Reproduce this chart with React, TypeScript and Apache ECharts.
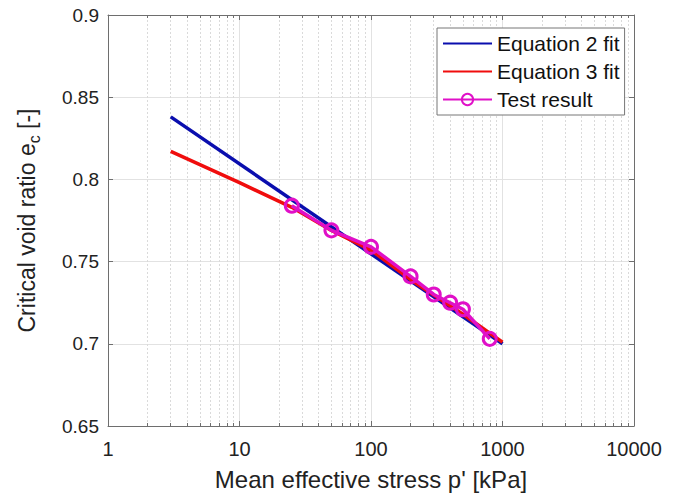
import React, { useEffect, useRef } from "react";
import * as echarts from "echarts";

// ---- data ----
const eq2Fit: [number, number][] = [
  [3, 0.838],
  [1000, 0.7],
];
const eq3Fit: [number, number][] = [
  [3, 0.817],
  [10, 0.798],
  [25, 0.783],
  [50, 0.769],
  [100, 0.757],
  [200, 0.739],
  [500, 0.718],
  [1000, 0.701],
];
const testP = [25, 50, 100, 200, 300, 400, 500, 800];
const testE = [0.784, 0.769, 0.759, 0.741, 0.73, 0.725, 0.721, 0.703];
const xMin = 1;
const xMax = 10000;
const yMin = 0.65;
const yMax = 0.9;
const yStep = 0.05;
const minorX: number[] = [];
for (let d = 1; d < xMax; d *= 10) {
  for (let k = 2; k <= 9; k++) minorX.push(d * k);
}

const FONT = "'Liberation Sans', Arial, Helvetica, sans-serif";
const AXIS_COLOR = "#6e6e6e";
const GRID_COLOR = "#e2e2e2";

export default function App() {
  const ref = useRef<HTMLDivElement>(null);
  useEffect(() => {
    if (!ref.current) return;
    const chart = echarts.init(ref.current, undefined, { renderer: "svg" });
    const tickLen = (3 / 411) * (yMax - yMin);
    const minorGrid = minorX.map((v) => ({ xAxis: v }));
    const minorTicks: any[] = [];
    minorX.forEach((v) => {
      minorTicks.push([{ coord: [v, yMin] }, { coord: [v, yMin + tickLen] }]);
      minorTicks.push([{ coord: [v, yMax] }, { coord: [v, yMax - tickLen] }]);
    });
    const option: any = {
      animation: false,
      textStyle: { fontFamily: FONT },
      grid: { left: 108, right: 49, top: 15, bottom: 72, containLabel: false },
      legend: {
        left: 437,
        top: 28,
        orient: "vertical",
        data: [
          { name: "Equation 2 fit", itemStyle: { opacity: 0 } },
          { name: "Equation 3 fit", itemStyle: { opacity: 0 } },
          { name: "Test result" },
        ],
        itemWidth: 49,
        itemHeight: 14,
        itemGap: 7,
        padding: [5, 5, 5, 5],
        borderColor: "#777",
        borderWidth: 1,
        borderRadius: 0,
        backgroundColor: "#fff",
        textStyle: { fontSize: 21, color: "#111", fontFamily: FONT, lineHeight: 20 },
      },
      xAxis: [
        {
          type: "log",
          logBase: 10,
          min: xMin,
          max: xMax,
          name: "Mean effective stress p' [kPa]",
          nameLocation: "middle",
          nameGap: 41,
          nameTextStyle: { fontSize: 24, color: "#222", fontFamily: FONT },
          axisLine: { show: true, lineStyle: { color: AXIS_COLOR, width: 1 } },
          axisTick: { show: true, inside: true, length: 5, lineStyle: { color: AXIS_COLOR } },
          axisLabel: {
            fontSize: 20,
            color: "#222",
            margin: 13,
            formatter: (v: number) => String(Math.round(v)),
          },
          splitLine: { show: true, lineStyle: { color: GRID_COLOR, width: 1 } },
        },
        {
          type: "log",
          logBase: 10,
          min: xMin,
          max: xMax,
          position: "top",
          axisLine: { show: true, onZero: false, lineStyle: { color: AXIS_COLOR, width: 1 } },
          axisTick: { show: true, inside: true, length: 5, lineStyle: { color: AXIS_COLOR } },
          axisLabel: { show: false },
          splitLine: { show: false },
        },
      ],
      yAxis: [
        {
          type: "value",
          min: yMin,
          max: yMax,
          interval: yStep,
          name: "{a|Critical void ratio e}{b|c}{a| [-]}",
          nameLocation: "middle",
          nameGap: 66,
          nameRotate: 90,
          nameTextStyle: {
            fontFamily: FONT,
            color: "#222",
            rich: {
              a: { fontSize: 23, color: "#222", fontFamily: FONT },
              b: { fontSize: 16, color: "#222", fontFamily: FONT, padding: [14, 0, 0, 0] },
            },
          },
          axisLine: { show: true, onZero: false, lineStyle: { color: AXIS_COLOR, width: 1 } },
          axisTick: { show: true, inside: true, length: 5, lineStyle: { color: AXIS_COLOR } },
          axisLabel: {
            fontSize: 19,
            color: "#222",
            margin: 9,
            formatter: (v: number) => String(parseFloat(v.toFixed(2))),
          },
          splitLine: { show: true, lineStyle: { color: GRID_COLOR, width: 1 } },
        },
        {
          type: "value",
          min: yMin,
          max: yMax,
          interval: yStep,
          position: "right",
          axisLine: { show: true, onZero: false, lineStyle: { color: AXIS_COLOR, width: 1 } },
          axisTick: { show: true, inside: true, length: 5, lineStyle: { color: AXIS_COLOR } },
          axisLabel: { show: false },
          splitLine: { show: false },
        },
      ],
      series: [
        {
          name: "_minor",
          type: "line",
          data: [],
          z: 1,
          silent: true,
          markLine: {
            z: 1,
            silent: true,
            symbol: "none",
            label: { show: false },
            emphasis: { disabled: true },
            lineStyle: { color: "#dadada", type: [2, 2], width: 1 },
            data: minorGrid,
          },
        },
        {
          name: "_minorTicks",
          type: "line",
          data: [],
          z: 1,
          silent: true,
          markLine: {
            z: 1,
            silent: true,
            symbol: "none",
            label: { show: false },
            emphasis: { disabled: true },
            lineStyle: { color: AXIS_COLOR, type: "solid", width: 1 },
            data: minorTicks,
          },
        },
        {
          name: "Equation 2 fit",
          type: "line",
          data: eq2Fit,
          symbol: "none",
          lineStyle: { color: "#0a0eae", width: 3.5 },
          itemStyle: { color: "#0a0eae" },
          z: 3,
        },
        {
          name: "Equation 3 fit",
          type: "line",
          data: eq3Fit,
          symbol: "none",
          lineStyle: { color: "#f00d0d", width: 3.5 },
          itemStyle: { color: "#f00d0d" },
          z: 4,
        },
        {
          name: "Test result",
          type: "line",
          data: testP.map((p, i) => [p, testE[i]]),
          symbol: "circle",
          symbolSize: 13,
          showAllSymbol: true,
          lineStyle: { color: "#e010c8", width: 3.5 },
          itemStyle: { color: "rgba(255,255,255,0)", borderColor: "#e010c8", borderWidth: 3 },
          z: 5,
        },
      ],
    };
    chart.setOption(option);
    return () => chart.dispose();
  }, []);
  return (
    <div
      ref={ref}
      style={{ position: "absolute", left: 0, top: 0, width: 683, height: 498, background: "#fff" }}
    />
  );
}
